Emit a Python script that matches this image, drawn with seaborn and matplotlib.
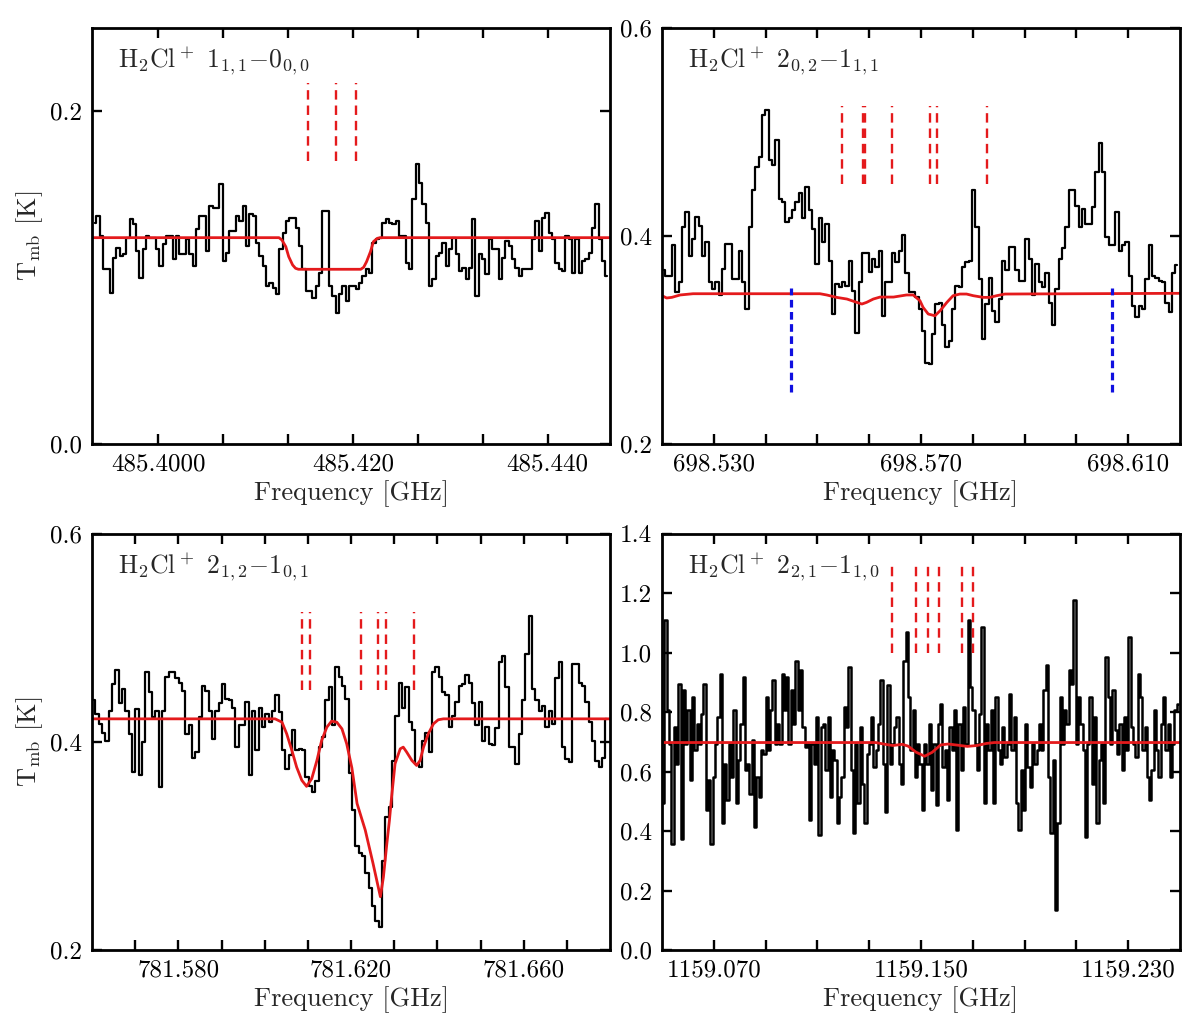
import numpy as np
import pandas as pd
import seaborn as sns
import matplotlib.pyplot as plt

# ---------------- data ----------------
# 485 GHz: 1(1,1)-0(0,0)
tl_temp = [0.133, 0.137, 0.125, 0.105, 0.105, 0.091, 0.112, 0.118, 0.113, 0.114,
           0.124, 0.135, 0.132, 0.116, 0.100, 0.117, 0.125, 0.124, 0.124, 0.117,
           0.107, 0.120, 0.125, 0.125, 0.111, 0.125, 0.114, 0.114, 0.123, 0.114,
           0.107, 0.129, 0.137, 0.137, 0.116, 0.143, 0.142, 0.142, 0.156, 0.110,
           0.115, 0.128, 0.128, 0.137, 0.134, 0.143, 0.119, 0.138, 0.137, 0.121,
           0.113, 0.107, 0.095, 0.097, 0.094, 0.090, 0.117, 0.127, 0.134, 0.136,
           0.136, 0.130, 0.119, 0.105, 0.092, 0.092, 0.088, 0.095, 0.103, 0.140,
           0.140, 0.095, 0.089, 0.079, 0.090, 0.095, 0.086, 0.095, 0.095,
           0.093, 0.097, 0.101, 0.105, 0.103, 0.121, 0.123, 0.124, 0.133, 0.135,
           0.133, 0.132, 0.134, 0.125, 0.125, 0.109, 0.105, 0.147, 0.168, 0.157,
           0.144, 0.133, 0.095, 0.099, 0.113, 0.115, 0.121, 0.107, 0.117, 0.124,
           0.114, 0.104, 0.106, 0.099, 0.106, 0.135, 0.089, 0.114, 0.111, 0.102,
           0.123, 0.117, 0.117, 0.099, 0.112, 0.122, 0.119, 0.111, 0.106, 0.101,
           0.105, 0.105, 0.105, 0.123, 0.134, 0.116, 0.136, 0.139, 0.127, 0.123,
           0.109, 0.105, 0.104, 0.125, 0.123, 0.103, 0.123, 0.103, 0.110, 0.111,
           0.115, 0.130, 0.144, 0.123, 0.110, 0.101]
tl_f0, tl_df = 485.39346, 0.0003417
tl_model_freq = [485.3932, 485.4124, 485.4127, 485.4131, 485.4134, 485.4138, 485.4141,
                 485.4144, 485.4208, 485.4211, 485.4214, 485.4218, 485.4221, 485.4225,
                 485.4228, 485.4464]
tl_model_temp = [0.124, 0.124, 0.1226, 0.1186, 0.1126, 0.1076, 0.1056,
                 0.105, 0.105, 0.1062, 0.1096, 0.1156, 0.1216, 0.1236,
                 0.124, 0.124]
tl_hfs = [485.4154, 485.4183, 485.4203]

# 698 GHz: 2(0,2)-1(1,1)
tr_temp = [0.367, 0.362, 0.362, 0.391, 0.346, 0.356, 0.409, 0.423, 0.381, 0.397,
           0.418, 0.410, 0.381, 0.394, 0.356, 0.349, 0.356, 0.343, 0.368, 0.392,
           0.392, 0.359, 0.359, 0.386, 0.356, 0.330, 0.409, 0.444, 0.466, 0.476,
           0.516, 0.521, 0.473, 0.468, 0.492, 0.436, 0.433, 0.413, 0.417, 0.425,
           0.433, 0.441, 0.417, 0.447, 0.425, 0.407, 0.373, 0.417, 0.394, 0.412,
           0.376, 0.325, 0.354, 0.351, 0.356, 0.352, 0.376, 0.347, 0.307, 0.356,
           0.384, 0.384, 0.365, 0.378, 0.370, 0.386, 0.323, 0.356, 0.356, 0.384,
           0.375, 0.386, 0.401, 0.364, 0.346, 0.346, 0.341, 0.330, 0.309,
           0.278, 0.277, 0.306, 0.335, 0.336, 0.314, 0.293, 0.299, 0.330, 0.352,
           0.351, 0.370, 0.375, 0.376, 0.444, 0.409, 0.359, 0.301, 0.335, 0.360,
           0.328, 0.317, 0.339, 0.376, 0.367, 0.389, 0.389, 0.367, 0.357, 0.357,
           0.397, 0.378, 0.343, 0.373, 0.356, 0.351, 0.364, 0.336, 0.314, 0.349,
           0.378, 0.388, 0.409, 0.444, 0.444, 0.429, 0.409, 0.426, 0.412, 0.412,
           0.428, 0.462, 0.489, 0.462, 0.399, 0.391, 0.391, 0.423, 0.386, 0.391,
           0.394, 0.362, 0.333, 0.322, 0.333, 0.330, 0.359, 0.391, 0.362, 0.360,
           0.357, 0.356, 0.336, 0.327, 0.364, 0.372]
tr_f0, tr_df = 698.52033, 0.0006435
tr_model_freq = [698.5200, 698.5209, 698.5219, 698.5235, 698.5260, 698.5505, 698.5518,
                 698.5537, 698.5557, 698.5576, 698.5586, 698.5595, 698.5608, 698.5621,
                 698.5647, 698.5672, 698.5685, 698.5698, 698.5704, 698.5714, 698.5727,
                 698.5737, 698.5750, 698.5762, 698.5775, 698.5788, 698.5801, 698.5820,
                 698.5833, 698.5846, 698.5862, 698.6200]
tr_model_temp = [0.3426, 0.3404, 0.3410, 0.3433, 0.3445, 0.3445, 0.3433,
                 0.3410, 0.3394, 0.3362, 0.3346, 0.3362, 0.3394, 0.3413,
                 0.3413, 0.3433, 0.3433, 0.3378, 0.3314, 0.3250, 0.3233,
                 0.3282, 0.3362, 0.3426, 0.3442, 0.3442, 0.3426, 0.3410,
                 0.3410, 0.3426, 0.3442, 0.3449]
tr_hfs = [698.5547, 698.5588, 698.5591, 698.5645, 698.5717, 698.5730, 698.5827]
tr_other = [698.5449, 698.6069]

# 781 GHz: 2(1,2)-1(0,1)
bl_temp = [0.440, 0.427, 0.417, 0.409, 0.401, 0.430, 0.456, 0.469, 0.437, 0.451,
           0.430, 0.408, 0.371, 0.432, 0.368, 0.400, 0.467, 0.448, 0.424, 0.430,
           0.357, 0.430, 0.462, 0.467, 0.467, 0.461, 0.457, 0.449, 0.408, 0.416,
           0.385, 0.390, 0.424, 0.454, 0.449, 0.430, 0.403, 0.430, 0.437, 0.456,
           0.441, 0.440, 0.433, 0.395, 0.416, 0.416, 0.438, 0.368, 0.430, 0.392,
           0.433, 0.414, 0.427, 0.419, 0.430, 0.445, 0.429, 0.392, 0.374, 0.387,
           0.411, 0.392, 0.393, 0.392, 0.366, 0.358, 0.352, 0.362, 0.395, 0.405,
           0.440, 0.453, 0.416, 0.472, 0.462, 0.454, 0.441, 0.370,
           0.335, 0.300, 0.293, 0.290, 0.274, 0.260, 0.242, 0.228, 0.222, 0.286,
           0.328, 0.337, 0.382, 0.425, 0.457, 0.433, 0.453, 0.419, 0.411, 0.379,
           0.376, 0.401, 0.409, 0.390, 0.467, 0.472, 0.462, 0.448, 0.445, 0.414,
           0.425, 0.438, 0.454, 0.456, 0.464, 0.457, 0.437, 0.416, 0.438, 0.401,
           0.414, 0.398, 0.397, 0.413, 0.477, 0.483, 0.453, 0.395, 0.395, 0.379,
           0.408, 0.440, 0.485, 0.521, 0.451, 0.440, 0.430, 0.435, 0.414, 0.430,
           0.417, 0.461, 0.477, 0.395, 0.384, 0.381, 0.475, 0.475, 0.457, 0.454,
           0.438, 0.419, 0.401, 0.382, 0.376, 0.385, 0.422]
bl_f0, bl_df = 781.56039, 0.000772
bl_model_freq = [781.5600, 781.6024, 781.6040, 781.6051, 781.6063, 781.6074, 781.6086,
                 781.6097, 781.6109, 781.6121, 781.6132, 781.6144, 781.6155, 781.6167,
                 781.6179, 781.6190, 781.6202, 781.6214, 781.6233, 781.6251, 781.6268,
                 781.6275, 781.6283, 781.6289, 781.6294, 781.6302, 781.6314, 781.6321,
                 781.6329, 781.6341, 781.6352, 781.6360, 781.6368, 781.6379, 781.6391,
                 781.6402, 781.6414, 781.6800]
bl_model_temp = [0.4222, 0.4222, 0.4190, 0.4078, 0.3918, 0.3758, 0.3631,
                 0.3573, 0.3647, 0.3822, 0.4014, 0.4142, 0.4200, 0.4190,
                 0.4126, 0.3982, 0.3750, 0.3408, 0.3152, 0.2832, 0.2512,
                 0.2700, 0.3023, 0.3247, 0.3471, 0.3790, 0.3934, 0.3950,
                 0.3902, 0.3822, 0.3774, 0.3822, 0.3950, 0.4078, 0.4174,
                 0.4213, 0.4222, 0.4222]
bl_hfs = [781.6086, 781.6105, 781.6223, 781.6263, 781.6280, 781.6347]

# 1159 GHz: 2(2,1)-1(1,0)
br_temp = [0.493, 1.109, 0.806, 0.694, 0.358, 0.750, 0.627, 0.896, 0.375, 0.874,
           0.694, 0.806, 0.571, 0.851, 0.672, 0.762, 0.694, 0.795, 0.896, 0.470,
           0.571, 0.358, 0.582, 0.694, 0.784, 0.930, 0.426, 0.627, 0.504, 0.694,
           0.582, 0.806, 0.493, 0.638, 0.762, 0.918, 0.605, 0.627, 0.526, 0.706,
           0.414, 0.582, 0.515, 0.672, 0.661, 0.851, 0.672, 0.806, 0.907, 0.694,
           0.762, 0.694, 0.930, 0.806, 0.918, 0.694, 0.874, 0.762, 0.974, 0.806,
           0.941, 0.750, 0.683, 0.694, 0.437, 0.694, 0.627, 0.784, 0.386, 0.750,
           0.762, 0.605, 0.784, 0.515, 0.672, 0.638, 0.426, 0.515, 0.582, 0.818,
           0.750, 0.952, 0.605, 0.392, 0.694, 0.493, 0.750, 0.560, 0.426, 0.661,
           0.694, 0.784, 0.616, 0.672, 0.762, 0.907, 0.627, 0.465, 0.890, 0.627,
           0.694, 0.750, 0.784, 0.627, 0.560, 0.974, 1.070, 0.851, 0.672, 0.806,
           0.582, 0.694, 0.627, 0.470, 0.694, 0.627, 0.762, 0.538, 0.694, 0.487,
           0.762, 0.829, 0.616, 0.672, 0.504, 0.750, 0.672, 0.806, 0.403, 0.762,
           0.605, 0.818, 0.694, 1.109, 0.885, 0.806, 0.694, 0.605, 0.795, 1.086,
           0.493, 0.762, 0.672, 0.806, 0.493, 0.851, 0.672, 0.627, 0.750, 0.650,
           0.694, 0.862, 0.672, 0.784, 0.493, 0.403, 0.605, 0.470, 0.762, 0.616,
           0.549, 0.694, 0.627, 0.672, 0.762, 0.672, 0.874, 0.958, 0.582, 0.392,
           0.638, 0.134, 0.426, 0.851, 0.694, 0.806, 0.762, 0.941, 0.896, 1.176,
           0.694, 0.851, 0.762, 0.672, 0.381, 0.694, 0.851, 0.560, 0.784, 0.426,
           0.638, 0.694, 0.493, 0.986, 0.851, 0.694, 0.874, 0.739, 0.661, 0.762,
           0.605, 0.784, 0.672, 1.053, 0.750, 0.694, 0.650, 0.930, 0.851, 0.672,
           0.750, 0.582, 0.504, 0.605, 0.806, 0.672, 0.582, 0.762, 0.851, 0.672,
           0.762, 0.582, 0.694, 0.806, 0.829]
br_f0, br_df = 1159.0505, 0.000887
br_model_freq = [1159.0500, 1159.1325, 1159.1362, 1159.1391, 1159.1428, 1159.1450,
                 1159.1480, 1159.1514, 1159.1543, 1159.1576, 1159.1605, 1159.1643,
                 1159.1679, 1159.1716, 1159.1753, 1159.1783, 1159.2500]
br_model_temp = [0.698, 0.698, 0.692, 0.688, 0.692, 0.686,
                 0.666, 0.652, 0.665, 0.690, 0.693, 0.689,
                 0.685, 0.688, 0.695, 0.698, 0.698]
br_hfs = [1159.1387, 1159.1481, 1159.1526, 1159.1570, 1159.1657, 1159.1702]

titles = [r"H$_2$Cl$^+$ 1$_{1,1}$$-$0$_{0,0}$", r"H$_2$Cl$^+$ 2$_{0,2}$$-$1$_{1,1}$",
          r"H$_2$Cl$^+$ 2$_{1,2}$$-$1$_{0,1}$", r"H$_2$Cl$^+$ 2$_{2,1}$$-$1$_{1,0}$"]

# ---------------- style ----------------
sns.set_theme(style="ticks")
plt.rcParams.update({
    "font.family": "serif",
    "font.serif": ["cmr10", "DejaVu Serif"],
    "mathtext.fontset": "cm",
    "axes.formatter.use_mathtext": True,
    "axes.unicode_minus": False,
    "axes.linewidth": 2.0,
    "axes.edgecolor": "black",
})
RED = "#e41a1c"
BLUE = "#1010e0"

fig, axes = plt.subplots(2, 2, figsize=(12, 10.28), dpi=100)
fig.subplots_adjust(left=0.0767, right=0.9833, top=0.9728, bottom=0.0759,
                    wspace=0.1004, hspace=0.216)

panels = [
    dict(ax=axes[0, 0], temp=tl_temp, f0=tl_f0, df=tl_df, mf=tl_model_freq, mt=tl_model_temp,
         hfs=tl_hfs, hfs_y=(0.17, 0.217), other=[], other_y=None, lw=1.6,
         xlim=(485.3932, 485.4464), ylim=(0.0, 0.25),
         xt=[485.4 + k * 0.02 / 3 for k in range(7)],
         xtl=["485.4000", "", "", "485.420", "", "", "485.440"],
         yt=[0.0, 0.2], ytl=["0.0", "0.2"], ylabel=True),
    dict(ax=axes[0, 1], temp=tr_temp, f0=tr_f0, df=tr_df, mf=tr_model_freq, mt=tr_model_temp,
         hfs=tr_hfs, hfs_y=(0.45, 0.525), other=tr_other, other_y=(0.25, 0.35), lw=1.6,
         xlim=(698.52, 698.62), ylim=(0.2, 0.6),
         xt=[698.53 + 0.01 * k for k in range(9)],
         xtl=["698.530", "", "", "", "698.570", "", "", "", "698.610"],
         yt=[0.2, 0.4, 0.6], ytl=["0.2", "0.4", "0.6"], ylabel=False),
    dict(ax=axes[1, 0], temp=bl_temp, f0=bl_f0, df=bl_df, mf=bl_model_freq, mt=bl_model_temp,
         hfs=bl_hfs, hfs_y=(0.45, 0.525), other=[], other_y=None, lw=1.6,
         xlim=(781.56, 781.68), ylim=(0.2, 0.6),
         xt=[781.57 + 0.01 * k for k in range(11)],
         xtl=["", "781.580", "", "", "", "781.620", "", "", "", "781.660", ""],
         yt=[0.2, 0.4, 0.6], ytl=["0.2", "0.4", "0.6"], ylabel=True),
    dict(ax=axes[1, 1], temp=br_temp, f0=br_f0, df=br_df, mf=br_model_freq, mt=br_model_temp,
         hfs=br_hfs, hfs_y=(1.0, 1.3), other=[], other_y=None, lw=1.8,
         xlim=(1159.05, 1159.25), ylim=(0.0, 1.4),
         xt=[1159.07 + 0.02 * k for k in range(9)],
         xtl=["1159.070", "", "", "", "1159.150", "", "", "", "1159.230"],
         yt=[0.2 * k for k in range(8)], ytl=["%.1f" % (0.2 * k) for k in range(8)],
         ylabel=False),
]

for p, title in zip(panels, titles):
    ax = p["ax"]
    spec = pd.DataFrame({"freq": p["f0"] + p["df"] * np.arange(len(p["temp"])),
                         "temp": p["temp"]})
    sns.lineplot(data=spec, x="freq", y="temp", ax=ax, color="black", lw=p["lw"],
                 drawstyle="steps-mid", estimator=None)
    model = pd.DataFrame({"freq": p["mf"], "temp": p["mt"]})
    sns.lineplot(data=model, x="freq", y="temp", ax=ax, color=RED, lw=2.0,
                 estimator=None)
    ax.vlines(p["hfs"], *p["hfs_y"], colors=RED, lw=1.7, linestyles=(0, (4, 2.5)))
    if p["other"]:
        ax.vlines(p["other"], *p["other_y"], colors=BLUE, lw=2.3,
                  linestyles=(0, (2.4, 1.4)))

    ax.set_xlim(*p["xlim"])
    ax.set_ylim(*p["ylim"])
    ax.set_xticks(p["xt"])
    ax.set_xticklabels(p["xtl"])
    ax.set_yticks(p["yt"])
    ax.set_yticklabels(p["ytl"])
    ax.tick_params(direction="in", top=True, right=True, length=7, width=1.7,
                   labelsize=18, pad=7, colors="black")
    ax.set_xlabel("Frequency [GHz]", fontsize=19, labelpad=3)
    ax.set_ylabel(r"T$_{\rm mb}$ [K]" if p["ylabel"] else "", fontsize=19)
    ax.text(0.05, 0.905, title, transform=ax.transAxes, fontsize=18.5, va="baseline")

fig.savefig("out.png", dpi=100)
